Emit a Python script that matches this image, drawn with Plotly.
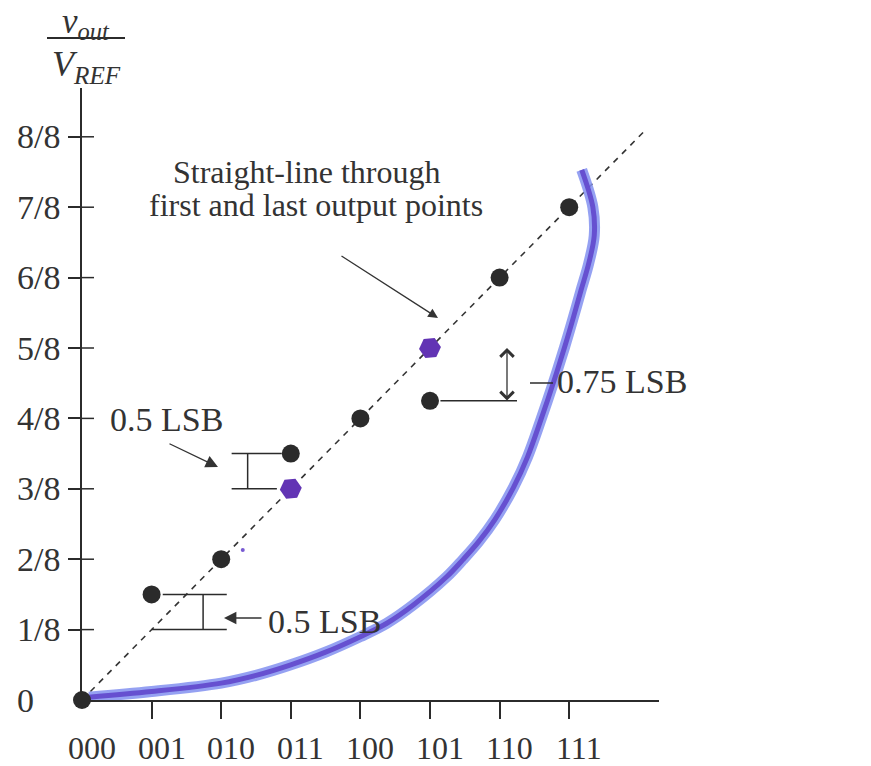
import plotly.graph_objects as go

# ---------------- data ----------------
codes = [0, 1, 2, 3, 4, 5, 6, 7]
code_labels = ["000", "001", "010", "011", "100", "101", "110", "111"]
actual_output = [0, 1.5, 2, 3.5, 4, 4.25, 6, 7]          # in units of V_REF/8
y_tick_vals = [0, 1, 2, 3, 4, 5, 6, 7, 8]
y_tick_labels = ["0", "1/8", "2/8", "3/8", "4/8", "5/8", "6/8", "7/8", "8/8"]
marked_codes = [3, 5]                                      # purple pen marks on ideal line
stray_mark_x = [2.31]
stray_mark_y = [2.13]
pen_curve_x = [0.10, 1.0, 2.0, 2.5, 3.0, 3.5, 4.0, 4.38, 4.76, 5.24, 5.47, 5.7, 5.93,
               6.20, 6.40, 6.60, 6.77, 6.93, 7.05, 7.17, 7.28, 7.36, 7.34, 7.18]
pen_curve_y = [0.04, 0.12, 0.24, 0.35, 0.50, 0.68, 0.90, 1.09, 1.35, 1.75, 1.99, 2.25, 2.56,
               3.02, 3.45, 4.00, 4.50, 5.00, 5.40, 5.82, 6.20, 6.60, 7.00, 7.53]
line_end_code = 8.08

# ---------------- geometry ----------------
W, H = 871, 766
L, R, T, B = 82, 212, 88, 66
XU, YU = 69.6, 70.4
PW, PH = W - L - R, H - T - B


def px2x(px):
    return (px - L) / XU


def py2y(py):
    return (H - B - py) / YU


slope = (actual_output[-1] - actual_output[0]) / (codes[-1] - codes[0])
ideal = [actual_output[0] + slope * c for c in codes]

INK = "#2b2b2b"
FONT = "Liberation Serif, Times New Roman, serif"

fig = go.Figure()

# dashed straight line through first and last points
fig.add_trace(go.Scatter(
    x=[codes[0], line_end_code],
    y=[actual_output[0], actual_output[0] + slope * line_end_code],
    mode="lines", line=dict(color="#333333", width=1.6, dash="6px,6px"),
    cliponaxis=False, hoverinfo="skip"))

# hand-drawn pen curve (halo + core)
fig.add_trace(go.Scatter(
    x=pen_curve_x, y=pen_curve_y, mode="lines",
    line=dict(color="rgba(130,145,240,0.85)", width=11, shape="spline", smoothing=1.0),
    cliponaxis=False, hoverinfo="skip"))
fig.add_trace(go.Scatter(
    x=pen_curve_x, y=pen_curve_y, mode="lines",
    line=dict(color="rgb(102,80,208)", width=5, shape="spline", smoothing=1.0),
    cliponaxis=False, hoverinfo="skip"))

# purple pen marks
fig.add_trace(go.Scatter(
    x=marked_codes, y=[ideal[c] for c in marked_codes], mode="markers",
    marker=dict(symbol="hexagon", size=22, color="rgb(98,52,180)", angle=25,
                line=dict(width=0)),
    cliponaxis=False, hoverinfo="skip"))
fig.add_trace(go.Scatter(
    x=stray_mark_x, y=stray_mark_y, mode="markers",
    marker=dict(size=4, color="rgb(120,90,210)"),
    cliponaxis=False, hoverinfo="skip"))

# actual output points
fig.add_trace(go.Scatter(
    x=codes, y=actual_output, mode="markers",
    marker=dict(size=18, color=INK, line=dict(width=0)),
    cliponaxis=False, hoverinfo="skip"))

shapes = []
# inner halves of the y ticks
for v in y_tick_vals[1:]:
    shapes.append(dict(type="line", xref="x", yref="y", xsizemode="pixel", xanchor=0,
                       x0=0, x1=12, y0=v, y1=v, line=dict(color=INK, width=1.5)))

# bracket at code 001 (0.5 LSB)
c = 1
shapes += [
    dict(type="line", xref="x", yref="y", x0=c + 0.16, x1=c + 1.08, y0=actual_output[c], y1=actual_output[c],
         line=dict(color=INK, width=1.5)),
    dict(type="line", xref="x", yref="y", x0=c, x1=c + 1.08, y0=ideal[c], y1=ideal[c],
         line=dict(color=INK, width=1.5)),
    dict(type="line", xref="x", yref="y", x0=c + 0.74, x1=c + 0.74, y0=ideal[c], y1=actual_output[c],
         line=dict(color=INK, width=1.5)),
]
# bracket at code 011 (0.5 LSB)
c = 3
shapes += [
    dict(type="line", xref="x", yref="y", x0=c - 0.85, x1=c - 0.13, y0=actual_output[c], y1=actual_output[c],
         line=dict(color=INK, width=1.5)),
    dict(type="line", xref="x", yref="y", x0=c - 0.85, x1=c - 0.2, y0=ideal[c], y1=ideal[c],
         line=dict(color=INK, width=1.5)),
    dict(type="line", xref="x", yref="y", x0=c - 0.62, x1=c - 0.62, y0=ideal[c], y1=actual_output[c],
         line=dict(color=INK, width=1.5)),
]
# leader at code 101 (-0.75 LSB)
c = 5
shapes += [
    dict(type="line", xref="x", yref="y", x0=c + 0.15, x1=c + 1.25, y0=actual_output[c], y1=actual_output[c],
         line=dict(color=INK, width=1.5)),
    dict(type="line", xref="x", yref="y", x0=px2x(530), x1=px2x(553), y0=py2y(383), y1=py2y(383),
         line=dict(color=INK, width=1.5)),
]
# fraction bar of the y-axis title
shapes.append(dict(type="line", xref="paper", yref="paper",
                   x0=(47 - L) / PW, x1=(125 - L) / PW, y0=(H - B - 38) / PH, y1=(H - B - 38) / PH,
                   line=dict(color=INK, width=2)))

annotations = []
# y tick labels (left aligned)
for v, lab in zip(y_tick_vals, y_tick_labels):
    annotations.append(dict(text=lab, xref="paper", x=(15 - L) / PW, xanchor="left",
                            yref="y", y=v, yanchor="middle", showarrow=False,
                            font=dict(family=FONT, size=34, color="#333")))
# x tick labels
for cval, lab in zip(codes, code_labels):
    annotations.append(dict(text=lab, xref="x", x=cval, xshift=10, xanchor="center",
                            yref="paper", y=(H - B - 748) / PH, yanchor="middle", showarrow=False,
                            font=dict(family=FONT, size=32, color="#333")))


def text(t, px, py, size=34, anchor="left", italic=False):
    annotations.append(dict(text=(f"<i>{t}</i>" if italic else t), xref="x", yref="y",
                            x=px2x(px), y=py2y(py), xanchor=anchor, yanchor="middle",
                            showarrow=False, font=dict(family=FONT, size=size, color="#333")))


text("Straight-line through", 307, 172, 32, "center")
text("first and last output points", 316, 205, 32, "center")
text("0.5 LSB", 108, 419)
text("0.5 LSB", 266, 621)
text("0.75 LSB", 555, 381)
text("Digital", 682, 676, 34, italic=True)
text("input code, D", 688, 705, 34, italic=True)

# axis title fraction
annotations.append(dict(text="<i>v<sub>out</sub></i>", xref="paper", yref="paper",
                        x=(86 - L) / PW, y=(H - B - 24) / PH, xanchor="center", yanchor="middle",
                        showarrow=False, font=dict(family=FONT, size=35, color="#333")))
annotations.append(dict(text="<i>V<sub>REF</sub></i>", xref="paper", yref="paper",
                        x=(86 - L) / PW, y=(H - B - 67) / PH, xanchor="center", yanchor="middle",
                        showarrow=False, font=dict(family=FONT, size=36, color="#333")))


def arrow(tail, head, side="end", head_style=2, size=1.5):
    annotations.append(dict(text="", xref="x", yref="y", axref="x", ayref="y",
                            x=px2x(head[0]), y=py2y(head[1]), ax=px2x(tail[0]), ay=py2y(tail[1]),
                            showarrow=True, arrowhead=head_style, arrowsize=size, arrowwidth=1.3,
                            arrowcolor="#333", arrowside=side, standoff=0, startstandoff=0,
                            startarrowhead=head_style, startarrowsize=size))


arrow((340, 255), (438, 318))
arrow((168, 443), (218, 467), size=1.9)
arrow((263, 618), (224, 618), size=1.9)
arrow((507, 402), (507, 348), side="end+start", head_style=4, size=2.0)

fig.update_layout(
    width=W, height=H, margin=dict(l=L, r=R, t=T, b=B),
    paper_bgcolor="white", plot_bgcolor="white", showlegend=False,
    shapes=shapes, annotations=annotations,
    xaxis=dict(range=[0, PW / XU], showline=True, linecolor=INK, linewidth=1.5,
               ticks="outside", tickvals=codes[1:], ticklen=17, tickwidth=1.5, tickcolor=INK,
               showticklabels=False, showgrid=False, zeroline=False, fixedrange=True),
    yaxis=dict(range=[0, PH / YU], showline=True, linecolor=INK, linewidth=1.5,
               ticks="outside", tickvals=y_tick_vals[1:], ticklen=12, tickwidth=1.5, tickcolor=INK,
               showticklabels=False, showgrid=False, zeroline=False, fixedrange=True),
)

fig.write_html("out.html")
